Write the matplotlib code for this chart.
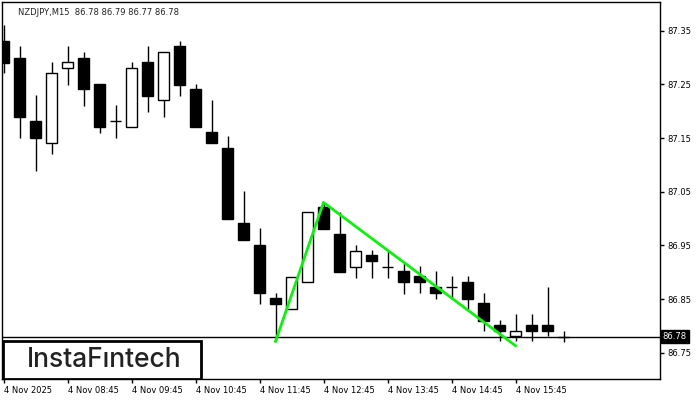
import matplotlib.pyplot as plt
import matplotlib.transforms as mtransforms
import numpy as np

# 15-minute candles, NZDJPY, 4 Nov 2025 from 07:45
opens = [87.331, 87.300, 87.182, 87.140, 87.280, 87.300, 87.251, 87.181, 87.170, 87.292,
         87.221, 87.321, 87.241, 87.161, 87.131, 86.991, 86.950, 86.852, 86.831, 86.881,
         87.021, 86.971, 86.910, 86.932, 86.910, 86.902, 86.892, 86.872, 86.872, 86.882,
         86.842, 86.801, 86.781, 86.801, 86.801, 86.780]
highs = [87.361, 87.322, 87.230, 87.292, 87.322, 87.310, 87.251, 87.211, 87.292, 87.322,
         87.310, 87.331, 87.251, 87.221, 87.153, 87.051, 86.982, 86.861, 86.891, 87.012,
         87.030, 87.012, 86.951, 86.941, 86.940, 86.917, 86.912, 86.903, 86.892, 86.892,
         86.861, 86.811, 86.822, 86.822, 86.872, 86.790]
lows = [87.271, 87.151, 87.089, 87.120, 87.249, 87.210, 87.160, 87.151, 87.170, 87.199,
        87.190, 87.229, 87.170, 87.140, 87.000, 86.960, 86.841, 86.771, 86.831, 86.881,
        86.981, 86.901, 86.890, 86.890, 86.890, 86.859, 86.861, 86.851, 86.851, 86.831,
        86.791, 86.771, 86.771, 86.771, 86.781, 86.770]
closes = [87.290, 87.190, 87.151, 87.271, 87.292, 87.241, 87.170, 87.181, 87.280, 87.229,
          87.310, 87.249, 87.170, 87.140, 87.000, 86.960, 86.861, 86.841, 86.891, 87.012,
          86.981, 86.901, 86.940, 86.920, 86.910, 86.881, 86.881, 86.861, 86.872, 86.851,
          86.810, 86.791, 86.791, 86.791, 86.791, 86.780]

time_ticks = [0, 4, 8, 12, 16, 20, 24, 28, 32]
time_labels = ["4 Nov 2025", "4 Nov 08:45", "4 Nov 09:45", "4 Nov 10:45", "4 Nov 11:45",
               "4 Nov 12:45", "4 Nov 13:45", "4 Nov 14:45", "4 Nov 15:45"]
price_ticks = [87.35, 87.25, 87.15, 87.05, 86.95, 86.85, 86.75]
last_price = 86.78

# pattern line: bottom -> top -> bottom
pattern_x = [17, 20, 32]
pattern_y = [86.771, 87.030, 86.763]

fig = plt.figure(figsize=(7, 4), dpi=100)
ax = fig.add_axes([2/700, 21/400, 658/700, 377/400])

x = np.arange(len(opens))
o = np.array(opens)
c = np.array(closes)
ax.vlines(x, lows, highs, color='black', linewidth=1, zorder=2)
bottoms = np.minimum(o, c)
heights = np.abs(c - o)
colors = ['white' if cc > oo else 'black' for oo, cc in zip(o, c)]
ax.bar(x, heights, bottom=bottoms, width=0.69, color=colors, edgecolor='black',
       linewidth=1, zorder=3)

ax.axhline(last_price, color='black', linewidth=1, zorder=4)
ax.plot(pattern_x, pattern_y, color='#11ee11', linewidth=2, zorder=5)

ax.set_xlim(-0.094, 41.03)
ax.set_ylim(86.701, 87.4035)

ax.yaxis.tick_right()
ax.set_yticks(price_ticks)
ax.set_yticklabels(["%.2f" % p for p in price_ticks])
ax.set_xticks(time_ticks)
ax.set_xticklabels(time_labels, ha='left')
ax.tick_params(axis='both', length=3, width=1, labelsize=6, pad=2, colors='black')
for s in ax.spines.values():
    s.set_linewidth(1)

trans = mtransforms.blended_transform_factory(ax.transAxes, ax.transData)
ax.text(1.004, last_price, "%.2f" % last_price, transform=trans, color='white',
        fontsize=6, va='center', ha='left',
        bbox=dict(boxstyle='square,pad=0.25', facecolor='black', edgecolor='black'))

ax.text(0.024, 0.985, "NZDJPY,M15  86.78 86.79 86.77 86.78", transform=ax.transAxes,
        fontsize=6, va='top', ha='left', color='#222222')

# logo box
logo = plt.Rectangle((0.002, 0.0), 0.301, 0.10, transform=ax.transAxes,
                     facecolor='white', edgecolor='black', linewidth=2, zorder=6)
ax.add_patch(logo)
ax.text(0.155, 0.051, "InstaF\u0131ntech", transform=ax.transAxes, fontsize=19,
        family='Inter', fontweight='medium', va='center', ha='center',
        color='#222222', zorder=7)

fig.savefig("out.png", dpi=100)
